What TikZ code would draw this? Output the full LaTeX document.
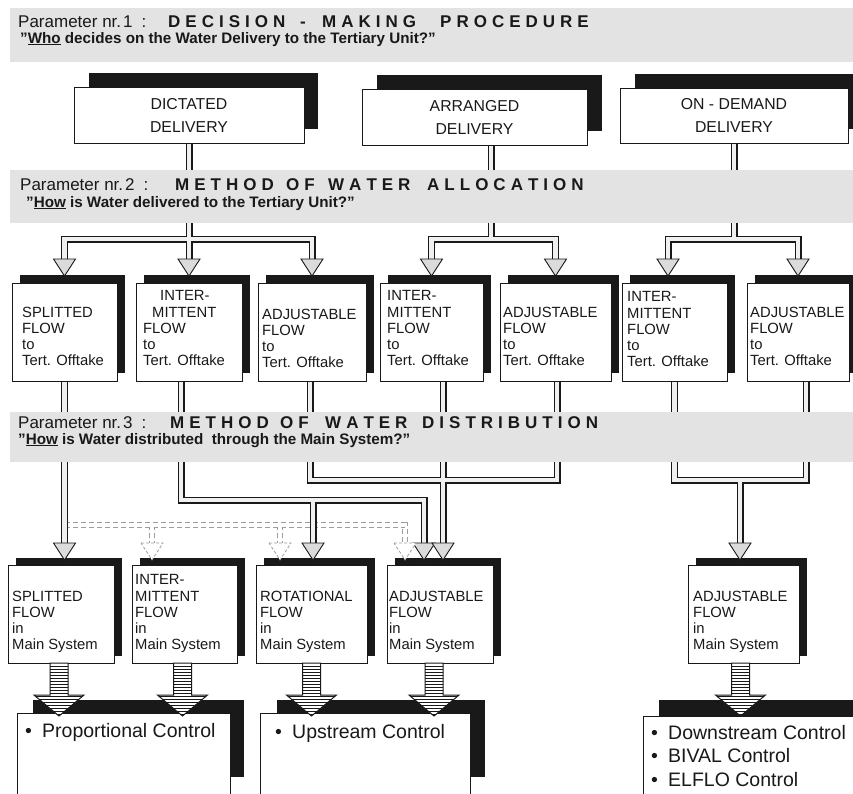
\documentclass[tikz,border=0pt]{standalone}
\usepackage{fontspec}
\setmainfont{Liberation Sans}
\pgfdeclarelayer{paper}
\pgfdeclarelayer{pipes}
\pgfsetlayers{paper,pipes,main}

\definecolor{ink}{gray}{0.1}
\definecolor{bandgray}{gray}{0.89}
\definecolor{pipegray}{gray}{0.94}
\definecolor{headgray}{gray}{0.86}
\definecolor{dashgray}{gray}{0.62}

% capitals set with a fixed gap after every letter
\ExplSyntaxOn
\NewDocumentCommand\spreadcaps{m}{\tl_map_inline:nn{#1}{##1\hspace{5pt}}}
\ExplSyntaxOff

% bullet followed by a fixed gap
\newcommand\blt{\makebox[17pt][l]{\textbullet}}

% box with a solid offset shadow: name, box x1 y1 x2 y2, shadow x1 y1 x2 y2
\newcommand\flowbox[9]{%
  \fill[shadowfill] (#6,#7) rectangle (#8,#9);
  \node[flowrect, minimum width={#4-#2}, minimum height={#5-#3}] (#1) at (#2,#3) {};}

\tikzset{
  shadowfill/.style={fill=ink},
  flowrect/.style={draw=ink, line width=0.8pt, fill=white, inner sep=0pt, outer sep=0pt,
    anchor=north west, rectangle},
  band/.style={fill=bandgray},
  bandlead/.style={anchor=base west, inner sep=0pt, text=ink, font=\fontsize{17}{18}\selectfont},
  bandcaps/.style={anchor=base west, inner sep=0pt, text=ink,
    font=\fontsize{17}{18}\selectfont\bfseries},
  bandquest/.style={anchor=base west, inner sep=0pt, text=ink,
    font=\fontsize{15.2}{17}\selectfont\bfseries},
  toptext/.style={align=center, inner sep=0pt, text=ink, font=\fontsize{15.8}{23}\selectfont},
  flowtext/.style={align=left, anchor=south west, inner sep=0pt, text=ink,
    font=\fontsize{14.8}{16.2}\selectfont},
  ctrltext/.style={align=left, anchor=north west, inner sep=0pt, text=ink,
    font=\fontsize{19.5}{23.5}\selectfont},
  pipe/.style={draw=pipegray, line width=4.6pt, line join=miter, line cap=butt,
    preaction={draw=ink, line width=7pt, line join=miter, line cap=butt}},
  dashpipe/.style={draw=dashgray, line width=0.8pt, double=white, double distance=4.4pt,
    dash pattern=on 5pt off 3pt},
  headtri/.style={draw=ink, line width=0.9pt, fill=headgray, line join=miter},
  dashtri/.style={draw=dashgray, line width=0.8pt, fill=white, dash pattern=on 3pt off 2pt},
  stripe/.style={draw=ink, line width=0.7pt},
  arrowline/.style={draw=ink, line width=1pt, line join=miter},
  hollowhead/.pic={\draw[headtri] (-11,-17) -- (11,-17) -- (0,0) -- cycle;},
  dashedhead/.pic={\draw[dashtri] (-11,-17) -- (11,-17) -- (0,0) -- cycle;},
  stripedarrow/.pic={
    \begin{scope}
      \clip (-9,0) -- (9,0) -- (9,32) -- (25,32) -- (0,53) -- (-25,32) -- (-9,32) -- cycle;
      \fill[white] (-26,-1) rectangle (26,54);
      \foreach \k in {1,...,18} \draw[stripe] (-26,3*\k) -- (26,3*\k);
    \end{scope}
    \draw[arrowline] (-9,0) -- (9,0) -- (9,32) -- (25,32) -- (0,53) -- (-25,32) -- (-9,32) -- cycle;}
}

\begin{document}
\begin{tikzpicture}[x=1pt, y=-1pt]
\useasboundingbox (0,0) rectangle (853,793);
\begin{pgfonlayer}{paper}
  \fill[white] (0,0) rectangle (853,793);
\end{pgfonlayer}

% parameter bands
\fill[band] (10,8) rectangle (853,62);
\fill[band] (10,170) rectangle (853,223);
\fill[band] (10,412) rectangle (853,462);

\node[bandlead] (p1) at (18,27) {Parameter nr.\hspace{2pt}1\hspace{9pt}:};
\node[bandcaps] (p1c) at (168,27) {\makebox[132pt][l]{\spreadcaps{DECISION}}\makebox[22pt][l]{-}\makebox[118pt][l]{\spreadcaps{MAKING}}\spreadcaps{PROCEDURE}};
\node[bandquest] (q1) at (20,43) {"\underline{Who} decides on the Water Delivery to the Tertiary Unit?"};
\node[bandlead] (p2) at (20,190) {Parameter nr.\hspace{2pt}2\hspace{9pt}:};
\node[bandcaps] (p2c) at (175,190) {\makebox[111pt][l]{\spreadcaps{METHOD}}\makebox[42pt][l]{\spreadcaps{OF}}\makebox[99pt][l]{\spreadcaps{WATER}}\spreadcaps{ALLOCATION}};
\node[bandquest] (q2) at (26,207) {"\underline{How} is Water delivered to the Tertiary Unit?"};
\node[bandlead] (p3) at (18,428) {Parameter nr.\hspace{2pt}3\hspace{9pt}:};
\node[bandcaps] (p3c) at (170,428) {\makebox[110pt][l]{\spreadcaps{METHOD}}\makebox[45pt][l]{\spreadcaps{OF}}\makebox[97pt][l]{\spreadcaps{WATER}}\spreadcaps{DISTRIBUTION}};
\node[bandquest] (q3) at (18,444) {"\underline{How} is Water distributed\ \ through the Main System?"};

% decision-making boxes
\flowbox{t1}{74}{87}{304}{143}{89}{73}{318}{129}
\flowbox{t2}{362}{89}{587}{145}{377}{75}{602}{131}
\flowbox{t3}{620}{88}{848}{143}{635}{74}{870}{129}
\node[toptext] (t1t) at (t1.center) {DICTATED\\DELIVERY};
\node[toptext] (t2t) at (t2.center) {ARRANGED\\DELIVERY};
\node[toptext] (t3t) at (t3.center) {ON - DEMAND\\DELIVERY};

% allocation boxes
\flowbox{b1}{12}{283}{117}{381}{20}{275}{125}{373}
\flowbox{b2}{136}{283}{242}{381}{144}{275}{250}{373}
\flowbox{b3}{258}{283}{366}{381}{266}{275}{374}{373}
\flowbox{b4}{380}{283}{483}{381}{388}{275}{491}{373}
\flowbox{b5}{500}{283}{611}{381}{508}{275}{619}{373}
\flowbox{b6}{622}{283}{727}{381}{630}{275}{735}{373}
\flowbox{b7}{747}{283}{849}{381}{755}{275}{860}{373}
\node[flowtext] (b1t) at (22,366) {SPLITTED\\FLOW\\to\\Tert. Offtake};
\node[flowtext] (b2t) at (143,366) {\hspace*{17pt}INTER-\\\hspace*{9pt}MITTENT\\FLOW\\to\\Tert. Offtake};
\node[flowtext] (b3t) at (262,368) {ADJUSTABLE\\FLOW\\to\\Tert. Offtake};
\node[flowtext] (b4t) at (387,366) {INTER-\\MITTENT\\FLOW\\to\\Tert. Offtake};
\node[flowtext] (b5t) at (503,366) {ADJUSTABLE\\FLOW\\to\\Tert. Offtake};
\node[flowtext] (b6t) at (627,367) {INTER-\\MITTENT\\FLOW\\to\\Tert. Offtake};
\node[flowtext] (b7t) at (750,366) {ADJUSTABLE\\FLOW\\to\\Tert. Offtake};

% distribution boxes
\flowbox{m1}{8}{565}{114}{663}{16}{558}{122}{656}
\flowbox{m2}{132}{565}{237}{663}{140}{558}{245}{656}
\flowbox{m3}{256}{565}{367}{663}{264}{558}{375}{656}
\flowbox{m4}{387}{565}{493}{663}{395}{558}{501}{656}
\flowbox{m5}{688}{565}{799}{663}{696}{558}{807}{656}
\node[flowtext] (m1t) at (12,653) {SPLITTED\\FLOW\\in\\Main System};
\node[flowtext] (m2t) at (135,653) {INTER-\\MITTENT\\FLOW\\in\\Main System};
\node[flowtext] (m3t) at (260,653) {ROTATIONAL\\FLOW\\in\\Main System};
\node[flowtext] (m4t) at (389,653) {ADJUSTABLE\\FLOW\\in\\Main System};
\node[flowtext] (m5t) at (693,653) {ADJUSTABLE\\FLOW\\in\\Main System};

% control boxes
\flowbox{c1}{17}{713}{230}{800}{33}{700}{244}{777}
\flowbox{c2}{260}{713}{470}{800}{277}{700}{485}{777}
\flowbox{c3}{643}{716}{880}{800}{659}{700}{880}{777}
\node[ctrltext] (c1t) at (25,723) {\blt Proportional Control};
\node[ctrltext] (c2t) at (275,724) {\blt Upstream Control};
\node[ctrltext] (c3t) at (651,725) {\blt Downstream Control\\\blt BIVAL Control\\\blt ELFLO Control};

% channels, drawn behind bands and boxes
\begin{pgfonlayer}{pipes}
  \coordinate (j1) at (t1.south |- 0,239);
  \coordinate (j2) at ([xshift=16.5pt]t2.south |- 0,239);
  \coordinate (j3) at (t3.south |- 0,239);
  \draw[dashpipe] (b1.south |- 0,525) -- (405,525) -- (405,547)
                  (152,525) -- (152,547) (280,525) -- (280,547);
  \draw[pipe] (t1.south) -- ([yshift=20pt]b2.north)
              ([yshift=20pt]b1.north) |- (j1) -| ([yshift=20pt]b3.north);
  \draw[pipe] ([xshift=16.5pt]t2.south) -- (j2)
              ([yshift=20pt]b4.north) |- (j2) -| ([yshift=20pt]b5.north);
  \draw[pipe] (t3.south) -- (j3)
              ([xshift=-6.5pt,yshift=20pt]b6.north) |- (j3) -| ([yshift=20pt]b7.north);
  \draw[pipe] (b1.south) -- (b1.south |- 0,546);
  \draw[pipe] ([xshift=-8pt]b2.south) |- (424,500) -- (424,546) (313,500) -- (313,546);
  \draw[pipe] ([xshift=-2pt]b3.south) |- (557,480) -- ([xshift=1.5pt]b5.south)
              ([xshift=11.5pt]b4.south) -- (443,546);
  \draw[pipe] (b6.south) |- (806,480) -- ([xshift=8pt]b7.south) (740,480) -- (740,546);
\end{pgfonlayer}

% arrow heads
\foreach \b in {b1,b2,b3,b4,b5,b7} \pic at ([yshift=7pt]\b.north) {hollowhead};
\pic at ([xshift=-6.5pt,yshift=7pt]b6.north) {hollowhead};
\pic at (b1.south |- 0,560) {hollowhead};
\pic at (313,560) {hollowhead};
\pic at (424,560) {hollowhead};
\pic at (443,560) {hollowhead};
\pic at (740,560) {hollowhead};
\pic at (152,560) {dashedhead};
\pic at (280,560) {dashedhead};
\pic at (405,560) {dashedhead};

% striped arrows to the control types
\pic at ([xshift=-2pt]m1.south) {stripedarrow};
\pic at ([xshift=-2pt]m2.south) {stripedarrow};
\pic at (m3.south) {stripedarrow};
\pic at ([xshift=-6pt]m4.south) {stripedarrow};
\pic at ([xshift=-3pt]m5.south) {stripedarrow};
\end{tikzpicture}
\end{document}
